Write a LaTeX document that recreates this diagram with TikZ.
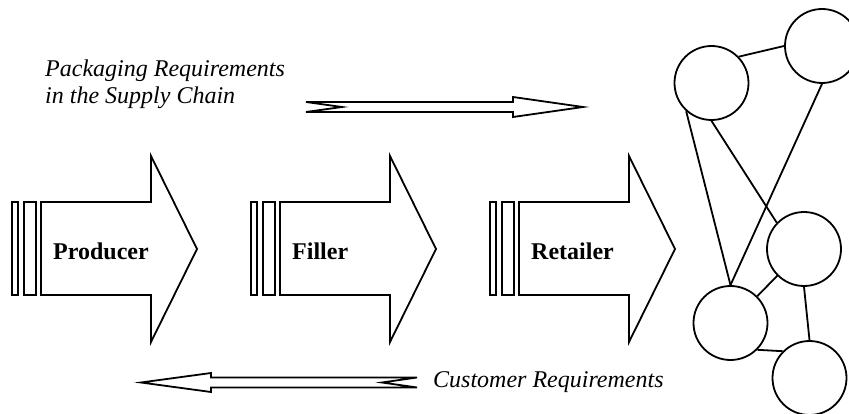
\documentclass[tikz,border=0pt]{standalone}
\usepackage{fontspec}
\setmainfont{Liberation Serif}
\begin{document}
\begin{tikzpicture}[x=1pt,y=-1pt,
  outline/.style={draw=black,line width=1.8pt,line join=miter,fill=white},
  stagelabel/.style={anchor=base west,inner sep=0pt,font=\fontsize{24}{26}\selectfont\bfseries},
  note/.style={inner sep=0pt,font=\fontsize{24}{26.5}\selectfont\itshape,align=left},
  site/.style={circle,draw=black,line width=1.8pt,minimum size=74pt,inner sep=0pt},
  link/.style={draw=black,line width=1.8pt}]
\useasboundingbox (0,0) rectangle (849,414);
\begin{scope}
\clip (0,0) rectangle (849,414);

% Three supply-chain stages: two bars and a block arrow each
\foreach \dx/\name/\lbl in {0/producer/Producer,239/filler/Filler,478/retailer/Retailer}{
  \begin{scope}[xshift=\dx]
    \draw[outline] (12,202) rectangle (18,295);
    \draw[outline] (24,202) rectangle (36,295);
    \draw[outline] (41,202) -- (151,202) -- (151,156) -- (197,249)
                   -- (151,342) -- (151,295) -- (41,295) -- cycle;
    \node[stagelabel] (\name) at (53,259) {\lbl};
  \end{scope}
}

% Flow of packaging requirements (left to right)
\draw[outline] (306,102) -- (513,102) -- (513,97) -- (583,107) -- (513,117)
               -- (513,112) -- (306,112) -- (342,107) -- cycle;
% Flow of customer requirements (right to left)
\draw[outline] (417,377.5) -- (211,377.5) -- (211,373) -- (141,382.5) -- (211,392)
               -- (211,387.5) -- (417,387.5) -- (382,382.5) -- cycle;

% the base anchor of a two-line note sits on its last line
\node[note,anchor=base west] (pack) at (45,103.5) {Packaging Requirements\\in the Supply Chain};
\node[note,anchor=base west] (cust) at (433,387) {Customer Requirements};

% Network of customers
\node[site] (c1) at (711.5,83) {};
\node[site] (c2) at (822,46) {};
\node[site] (c3) at (804,249) {};
\node[site] (c4) at (730.5,323) {};
\node[site] (c5) at (809.5,378) {};

\draw[link] (c1.44) -- (c2.180);
\draw[link] (c1.228) -- (c4.90);
\draw[link] (c1.270) -- (c3.136);
\draw[link] (c2.270) -- (c4.90);
\draw[link] (c3.225) -- (c4.45);
\draw[link] (c3.270) -- (c5.90);
\draw[link] (c4.-45) -- (c5.135);
\end{scope}
\end{tikzpicture}
\end{document}
